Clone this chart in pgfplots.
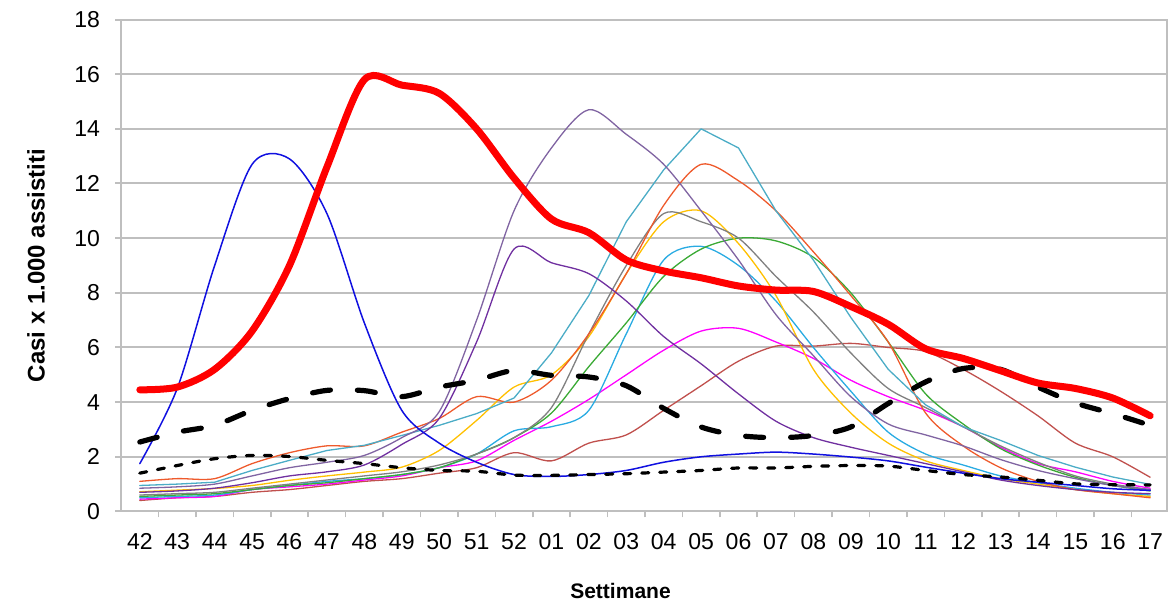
\documentclass[border=0pt]{standalone}
\usepackage{fontspec}
\setmainfont{Liberation Sans}
\usepackage{pgfplots}
\pgfplotsset{compat=1.18}
\usepackage{pgfplotstable}

\definecolor{gridgray}{HTML}{BFBFBF}
\definecolor{cRed}{HTML}{FF0000}
\definecolor{cBlue}{HTML}{1010E0}
\definecolor{cLPur}{HTML}{8064A2}
\definecolor{cDPur}{HTML}{7030A0}
\definecolor{cTeal}{HTML}{4BACC6}
\definecolor{cOrng}{HTML}{EE5A2C}
\definecolor{cGray}{HTML}{808080}
\definecolor{cYell}{HTML}{FFC000}
\definecolor{cGrn}{HTML}{3AAA35}
\definecolor{cLBlu}{HTML}{29ABE2}
\definecolor{cMag}{HTML}{FF00FF}
\definecolor{cBrn}{HTML}{C0504D}

\pgfplotstableread{
i red blue lpur dpur teal orng gray yell grn lblu mag brn thin thick
0 4.45 1.75 0.85 0.70 0.95 1.10 0.60 0.72 0.55 0.50 0.45 0.40 1.40 2.54
1 4.55 4.50 0.90 0.75 1.00 1.20 0.65 0.78 0.60 0.55 0.50 0.50 1.68 2.90
2 5.20 9.00 1.00 0.85 1.07 1.20 0.70 0.84 0.65 0.60 0.55 0.55 1.93 3.15
3 6.60 12.70 1.30 1.05 1.50 1.75 0.85 0.95 0.80 0.80 0.80 0.70 2.05 3.70
4 9.00 12.90 1.60 1.30 1.87 2.15 1.00 1.14 0.95 0.95 0.90 0.80 2.01 4.13
5 12.60 10.90 1.80 1.45 2.23 2.40 1.15 1.30 1.05 1.10 1.00 0.95 1.87 4.43
6 15.80 6.90 2.05 1.70 2.42 2.40 1.30 1.44 1.20 1.20 1.15 1.10 1.75 4.42
7 15.60 3.70 2.70 2.45 2.78 2.90 1.45 1.62 1.35 1.35 1.30 1.20 1.60 4.20
8 15.30 2.50 3.65 3.40 3.15 3.40 1.70 2.23 1.60 1.60 1.60 1.40 1.50 4.55
9 14.00 1.80 7.00 6.20 3.58 4.20 2.10 3.33 2.10 2.10 1.85 1.60 1.47 4.80
10 12.20 1.35 11.00 9.60 4.15 4.00 2.70 4.55 2.70 2.95 2.60 2.15 1.33 5.16
11 10.70 1.28 13.30 9.10 5.80 4.80 3.80 5.00 3.60 3.10 3.30 1.85 1.32 4.98
12 10.20 1.35 14.70 8.70 7.90 6.50 6.50 6.40 5.30 3.70 4.10 2.50 1.35 4.92
13 9.20 1.50 13.80 7.70 10.60 8.70 9.00 8.70 6.90 6.50 5.00 2.80 1.38 4.60
14 8.80 1.80 12.70 6.40 12.50 11.20 10.90 10.60 8.60 9.20 5.90 3.70 1.44 3.77
15 8.55 2.00 11.00 5.40 14.00 12.70 10.60 11.00 9.60 9.70 6.60 4.60 1.50 3.09
16 8.25 2.10 9.20 4.30 13.30 12.10 10.00 9.80 10.00 9.00 6.70 5.50 1.59 2.78
17 8.10 2.17 7.20 3.30 11.00 11.00 8.60 7.90 9.90 7.70 6.20 6.05 1.59 2.70
18 8.05 2.10 5.70 2.70 9.20 9.50 7.30 5.20 9.30 6.00 5.60 6.05 1.65 2.78
19 7.50 1.99 4.20 2.35 7.10 7.90 5.80 3.60 8.00 4.40 4.80 6.15 1.68 3.09
20 6.85 1.85 3.20 2.05 5.20 6.20 4.50 2.50 6.20 2.90 4.20 6.00 1.66 3.95
21 5.95 1.62 2.80 1.75 3.90 3.60 3.80 1.85 4.30 2.10 3.70 5.85 1.50 4.74
22 5.60 1.40 2.40 1.45 3.10 2.40 3.10 1.50 3.20 1.70 3.10 5.20 1.35 5.23
23 5.15 1.20 1.90 1.15 2.60 1.60 2.40 1.20 2.30 1.30 2.35 4.40 1.26 5.20
24 4.70 1.07 1.50 0.95 2.05 1.10 1.80 1.00 1.70 1.05 1.75 3.50 1.14 4.55
25 4.50 0.95 1.20 0.80 1.62 0.80 1.30 0.80 1.25 0.85 1.45 2.50 1.01 3.97
26 4.15 0.83 0.95 0.70 1.26 0.65 1.00 0.65 0.95 0.70 1.10 2.00 0.98 3.58
27 3.50 0.77 0.80 0.65 0.99 0.50 0.80 0.55 0.75 0.60 0.85 1.25 0.97 3.15
}\datatable

\begin{document}
\begin{tikzpicture}
\begin{axis}[
  scale only axis,
  width=522.5pt, height=245.75pt,
  xmin=-0.5, xmax=27.45, ymin=0, ymax=18,
  ytick={0,2,...,18},
  xtick={0,...,27},
  xticklabels={42,43,44,45,46,47,48,49,50,51,52,01,02,03,04,05,06,07,08,09,10,11,12,13,14,15,16,17},
  minor xtick={0.5,1.5,...,26.5},
  ymajorgrids,
  grid style={draw=gridgray, line width=1pt},
  axis line style={draw=gridgray, line width=1pt},
  tick align=outside,
  xtick pos=bottom, ytick pos=left,
  major x tick style={draw=none},
  minor x tick style={draw=gridgray, line width=0.8pt},
  minor tick length=3pt,
  major tick length=3pt,
  y tick style={draw=gridgray, line width=1pt},
  tick label style={font=\fontsize{11.5}{13}\selectfont},
  yticklabel style={xshift=-4pt},
  xticklabel style={yshift=-4.5pt},
  /pgf/number format/assume math mode=true,
  xlabel={Settimane},
  ylabel={Casi x 1.000 assistiti},
  xlabel style={at={(axis description cs:0.4775,-0.1607)}, anchor=center, font=\fontsize{10.5}{12}\selectfont\bfseries},
  ylabel style={at={(axis description cs:-0.0813,0.5)}, anchor=center, rotate=0, font=\fontsize{12}{14}\selectfont\bfseries},
  every axis plot/.append style={line join=round, line cap=round},
]
\addplot[smooth, cBrn, line width=0.65pt] table[x=i, y=brn] {\datatable};
\addplot[smooth, cMag, line width=0.65pt] table[x=i, y=mag] {\datatable};
\addplot[smooth, cLBlu, line width=0.65pt] table[x=i, y=lblu] {\datatable};
\addplot[smooth, cGrn, line width=0.65pt] table[x=i, y=grn] {\datatable};
\addplot[smooth, cYell, line width=0.65pt] table[x=i, y=yell] {\datatable};
\addplot[smooth, cGray, line width=0.65pt] table[x=i, y=gray] {\datatable};
\addplot[smooth, cOrng, line width=0.65pt] table[x=i, y=orng] {\datatable};
\addplot[cTeal, line width=0.65pt] table[x=i, y=teal] {\datatable};
\addplot[smooth, cDPur, line width=0.65pt] table[x=i, y=dpur] {\datatable};
\addplot[smooth, cLPur, line width=0.65pt] table[x=i, y=lpur] {\datatable};
\addplot[smooth, cBlue, line width=0.75pt] table[x=i, y=blue] {\datatable};
\addplot[smooth, black, line width=1.6pt, dash pattern=on 3.5pt off 5.5pt] table[x=i, y=thin] {\datatable};
\addplot[smooth, black, line width=2.6pt, dash pattern=on 9pt off 13.5pt] table[x=i, y=thick] {\datatable};
\addplot[smooth, cRed, line width=3.5pt] table[x=i, y=red] {\datatable};
\end{axis}
\pgfresetboundingbox
\path[use as bounding box] (-60.5pt,-44.5pt) rectangle (523pt,255.5pt);
\end{tikzpicture}
\end{document}
